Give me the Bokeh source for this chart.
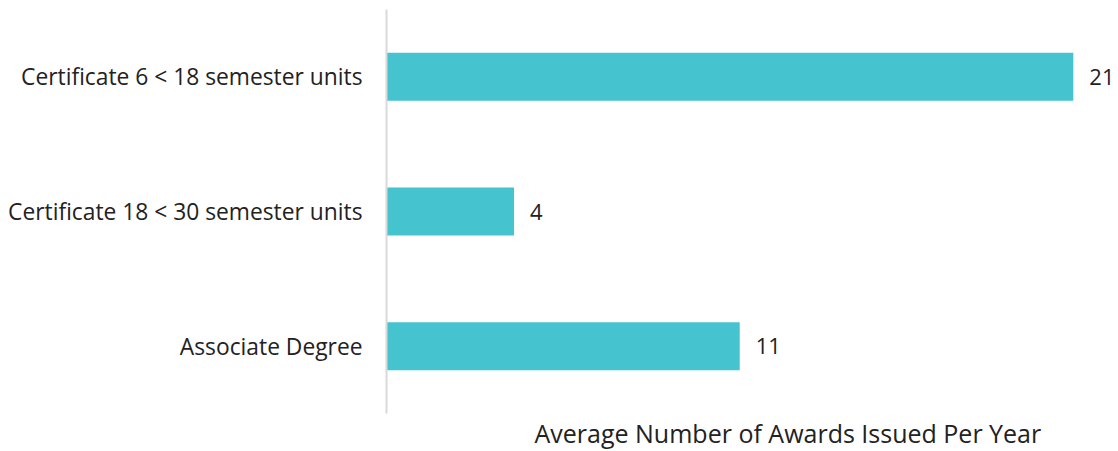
from bokeh.plotting import figure
from bokeh.models import ColumnDataSource, Range1d, Label, FixedTicker
from bokeh.core.properties import value
from bokeh.embed import file_html
from bokeh.resources import INLINE

categories = ["Certificate 6 < 18 semester units", "Certificate 18 < 30 semester units", "Associate Degree"]
values = [21.0, 3.9, 10.8]
value_labels = ["21", "4", "11"]
x_label = "Average Number of Awards Issued Per Year"

FONT = "Open Sans"
BAR = "#45C3CF"
TXT = "#222222"

n = len(categories)
ypos = [n - 1 - i for i in range(n)]  # top-to-bottom order
src = ColumnDataSource(dict(y=ypos, val=values, lab=value_labels))

slot_px = 404 / n
y_low = -0.5 - 38 / slot_px

p = figure(width=1116, height=451, output_backend="svg", toolbar_location=None,
           y_range=Range1d(y_low, n - 0.5),
           x_range=Range1d(0, 22.32),
           min_border_left=386, min_border_right=0, min_border_top=9, min_border_bottom=0)
p.outline_line_color = None
p.background_fill_color = "white"
p.border_fill_color = "white"
p.grid.visible = False

p.hbar(y="y", right="val", left=0, height=0.356, source=src, color=BAR, line_color=None)
p.text(x="val", y="y", text="lab", source=src, x_offset=16, text_baseline="middle",
       text_align="left", text_font=value(FONT), text_font_size="22px", text_color=TXT)

p.xaxis.visible = False
ya = p.yaxis[0]
ya.bounds = (-0.5, n - 0.5)
ya.ticker = FixedTicker(ticks=ypos, minor_ticks=[])
ya.major_label_overrides = {yv: c for yv, c in zip(ypos, categories)}
ya.axis_line_color = "#d9d9d9"
ya.axis_line_width = 2
ya.major_tick_line_color = None
ya.minor_tick_line_color = None
ya.major_tick_out = 0
ya.major_tick_in = 0
ya.major_label_standoff = 24
ya.major_label_text_font = FONT
ya.major_label_text_font_size = "22.8px"
ya.major_label_text_color = TXT

lbl = Label(x=148, y=19, x_units="screen", y_units="screen", text=x_label,
            text_font=FONT, text_font_size="25px", text_color=TXT,
            text_align="left", text_baseline="alphabetic")
p.add_layout(lbl)

open("out.html", "w").write(file_html(p, INLINE))
